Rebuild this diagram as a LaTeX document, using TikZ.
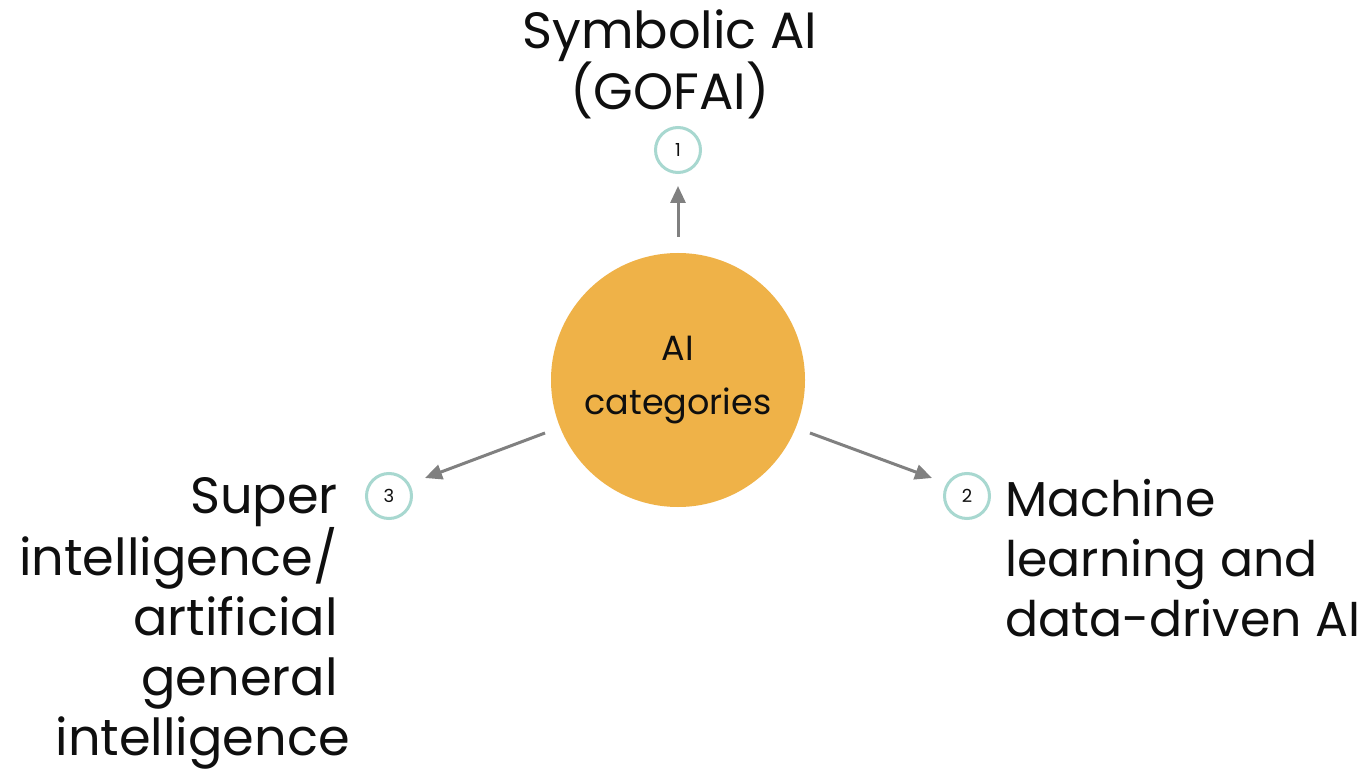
\documentclass[tikz,border=0pt]{standalone}
\usepackage{fontspec}
\setmainfont{Poppins}
\usetikzlibrary{arrows.meta}
\definecolor{hub}{RGB}{239,178,72}
\definecolor{ring}{RGB}{168,216,208}
\definecolor{arrowgray}{RGB}{128,128,128}
\definecolor{ink}{RGB}{15,15,15}
\tikzset{
  hubnode/.style={circle,fill=hub,draw=none,minimum size=254pt,inner sep=0pt,align=center,
    font=\fontsize{35}{54}\selectfont,text=ink},
  numnode/.style={circle,draw=ring,line width=3pt,fill=white,minimum size=45pt,inner sep=0pt,
    font=\fontsize{18}{20}\selectfont,text=ink},
  biglabel/.style={font=\fontsize{51}{60}\selectfont,text=ink,inner sep=0pt},
  conn/.style={draw=arrowgray,line width=3pt,-{Triangle[length=17pt,width=15pt]}}
}
\begin{document}
\begin{tikzpicture}[x=1pt,y=-1pt]
\useasboundingbox[fill=white] (0,0) rectangle (1361,770);
\node[hubnode] (hub) at (678,380) {AI\\categories};
\node[numnode] (n1) at (678,150) {1};
\node[numnode] (n2) at (967,496) {2};
\node[numnode] (n3) at (389,496) {3};
\coordinate (s1) at (678,237);
\coordinate (e1) at (678,186);
\coordinate (s2) at (810,433);
\coordinate (e2) at (932,478);
\coordinate (s3) at (545,433);
\coordinate (e3) at (425,478);
\draw[conn] (s1) -- (e1);
\draw[conn] (s2) -- (e2);
\draw[conn] (s3) -- (e3);
\node[biglabel,align=center,anchor=north] (l1) at (670,9) {Symbolic AI\\(GOFAI)};
\node[biglabel,font=\fontsize{49}{60}\selectfont,align=left,anchor=north west] (l2) at (1005,479) {Machine\\learning and\\data-driven AI};
\node[biglabel,align=right,anchor=north east] (l3) at (338,477) {Super\\intelligence/\\artificial\\general\\intelligence\hspace*{-12pt}};
\end{tikzpicture}
\end{document}
